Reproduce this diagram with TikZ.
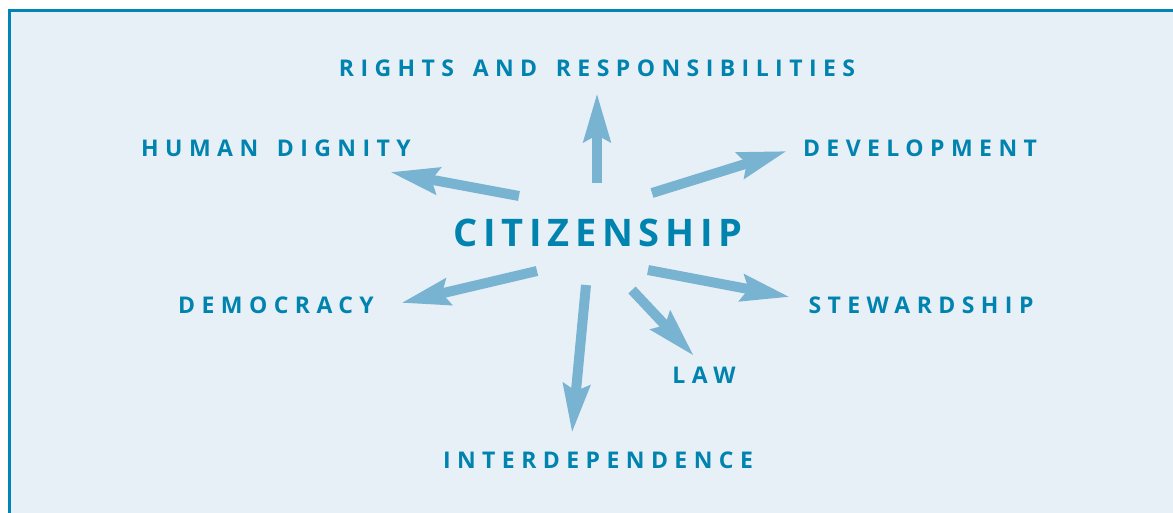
\documentclass[tikz,border=0pt]{standalone}
\usepackage{fontspec}
\usetikzlibrary{arrows.meta}
\newfontfamily\lblfont[LetterSpace=28,WordSpace=1.5]{Open Sans}
\newfontfamily\bigfont[LetterSpace=15]{Open Sans}
\definecolor{txtblue}{HTML}{0083AE}
\definecolor{arrblue}{HTML}{78B3D1}
\definecolor{bgblue}{HTML}{E8F0F7}
\definecolor{frameblue}{HTML}{0085B5}
\tikzset{
  lbl/.style={font=\lblfont\bfseries\fontsize{23}{23}\selectfont, text=txtblue, inner sep=0pt, anchor=center},
  big/.style={font=\bigfont\bfseries\fontsize{38}{38}\selectfont, text=txtblue, inner sep=0pt, anchor=center},
  arr/.style={draw=arrblue, line width=10pt, -{Stealth[length=48pt,width=26pt,inset=6pt]}}
}
\begin{document}
\begin{tikzpicture}[x=1pt,y=-1pt]
\useasboundingbox (0,0) rectangle (1173,513);
\fill[white] (0,0) rectangle (1173,513);
\draw[frameblue, line width=3pt, fill=bgblue] (9.5,11) rectangle (1190,530);
% labels
\node[lbl] (rights) at (597,68) {RIGHTS AND RESPONSIBILITIES};
\node[lbl] (human) at (276,148) {HUMAN DIGNITY};
\node[lbl] (dev) at (920,148) {DEVELOPMENT};
\node[big] (cit) at (598,233) {CITIZENSHIP};
\node[lbl] (dem) at (276,305) {DEMOCRACY};
\node[lbl] (stew) at (921,305) {STEWARDSHIP};
\node[lbl] (law) at (704,375) {LAW};
\node[lbl] (inter) at (598,460) {INTERDEPENDENCE};
% arrow ends
\coordinate (t1) at (597,183); \coordinate (h1) at (597,93);
\coordinate (t2) at (519,196); \coordinate (h2) at (390,172);
\coordinate (t3) at (652,193); \coordinate (h3) at (787,151);
\coordinate (t4) at (537,271); \coordinate (h4) at (401,303);
\coordinate (t5) at (586,285); \coordinate (h5) at (572,433);
\coordinate (t6) at (632,290); \coordinate (h6) at (694,356);
\coordinate (t7) at (648,270); \coordinate (h7) at (790,297);
\foreach \i in {1,...,7} { \draw[arr] (t\i) -- (h\i); }
\end{tikzpicture}
\end{document}
